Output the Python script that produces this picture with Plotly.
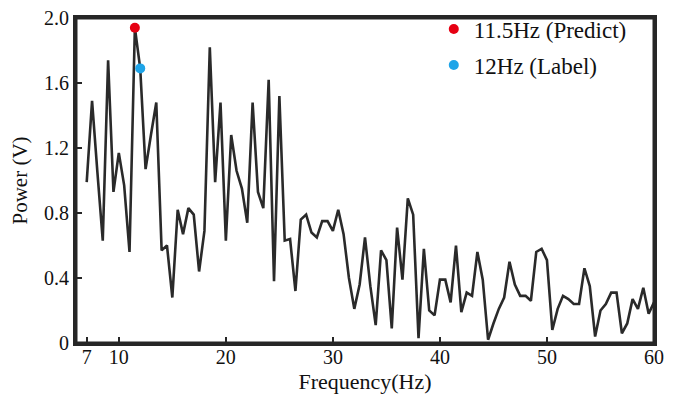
import plotly.graph_objects as go

freq = [7 + 0.5 * i for i in range(107)]
power = [
    0.99, 1.49, 1.05, 0.63, 1.74, 0.93, 1.17, 0.97, 0.56, 1.94,
    1.69, 1.07, 1.28, 1.48, 0.57, 0.60, 0.28, 0.82, 0.67, 0.83,
    0.79, 0.44, 0.69, 1.82, 0.99, 1.48, 0.63, 1.28, 1.06, 0.95,
    0.74, 1.48, 0.93, 0.83, 1.62, 0.38, 1.52, 0.63, 0.64, 0.32,
    0.76, 0.79, 0.68, 0.65, 0.75, 0.75, 0.69, 0.82, 0.67, 0.40,
    0.21, 0.36, 0.65, 0.35, 0.11, 0.57, 0.51, 0.09, 0.71, 0.39,
    0.89, 0.79, 0.03, 0.58, 0.20, 0.17, 0.39, 0.39, 0.25, 0.60,
    0.19, 0.31, 0.29, 0.56, 0.39, 0.02, 0.12, 0.21, 0.28, 0.50,
    0.36, 0.29, 0.29, 0.26, 0.56, 0.58, 0.51, 0.08, 0.21, 0.29,
    0.27, 0.24, 0.24, 0.46, 0.35, 0.04, 0.20, 0.24, 0.31, 0.31,
    0.06, 0.12, 0.27, 0.21, 0.34, 0.18, 0.25,
]

predict_freq = [11.5]
predict_power = [1.94]
label_freq = [12.0]
label_power = [1.69]

x_ticks = [7, 10, 20, 30, 40, 50, 60]
y_ticks = [0, 0.4, 0.8, 1.2, 1.6, 2.0]
y_tick_text = ["0", "0.4", "0.8", "1.2", "1.6", "2.0"]

FONT = "Liberation Serif"
AX = "#262626"

fig = go.Figure()
fig.add_trace(go.Scatter(x=freq, y=power, mode="lines",
                         line=dict(color="#2a2a2a", width=2.6),
                         showlegend=False, hoverinfo="skip"))
fig.add_trace(go.Scatter(x=predict_freq, y=predict_power, mode="markers",
                         marker=dict(color="#e60012", size=10),
                         name="11.5Hz (Predict)", legendgroup="a"))
fig.add_trace(go.Scatter(x=label_freq, y=label_power, mode="markers",
                         marker=dict(color="#1ea4e8", size=10),
                         name="12Hz (Label)", legendgroup="b"))

# frame around the plotting area
fig.add_shape(type="rect", xref="paper", yref="paper", x0=0, y0=0, x1=1, y1=1,
              line=dict(color=AX, width=3), fillcolor="rgba(0,0,0,0)",
              layer="above")

# page body adds an 8px offset; figure sized so the plot lands where the reference has it
fig.update_layout(
    width=662, height=386,
    margin=dict(l=68, r=16, t=10, b=51, autoexpand=False),
    plot_bgcolor="white", paper_bgcolor="white",
    font=dict(family=FONT, size=20, color="#111111"),
    legend=dict(x=0.619, y=1.032, xanchor="left", yanchor="top",
                bgcolor="rgba(0,0,0,0)", font=dict(family=FONT, size=23),
                tracegroupgap=3, itemwidth=30),
    xaxis=dict(range=[6, 60], tickvals=x_ticks, ticks="inside", ticklen=6,
               tickwidth=2, tickcolor=AX, showline=True, linecolor=AX,
               linewidth=3, mirror=True, showgrid=False, zeroline=False,
               automargin=False, ticklabelstandoff=-6,
               ticklabeloverflow="allow",
               title=dict(text="Frequency(Hz)", standoff=11,
                          font=dict(family=FONT, size=22)),
               tickfont=dict(family=FONT, size=20)),
    yaxis=dict(range=[0, 2.0], tickvals=y_ticks, ticktext=y_tick_text,
               ticks="inside", ticklen=6, tickwidth=2, tickcolor=AX,
               showline=True, linecolor=AX, linewidth=3, mirror=True,
               showgrid=False, zeroline=False, automargin=False,
               ticklabeloverflow="allow",
               title=dict(text="Power (V)", standoff=18,
                          font=dict(family=FONT, size=21)),
               tickfont=dict(family=FONT, size=20)),
)

fig.write_html("out.html")
